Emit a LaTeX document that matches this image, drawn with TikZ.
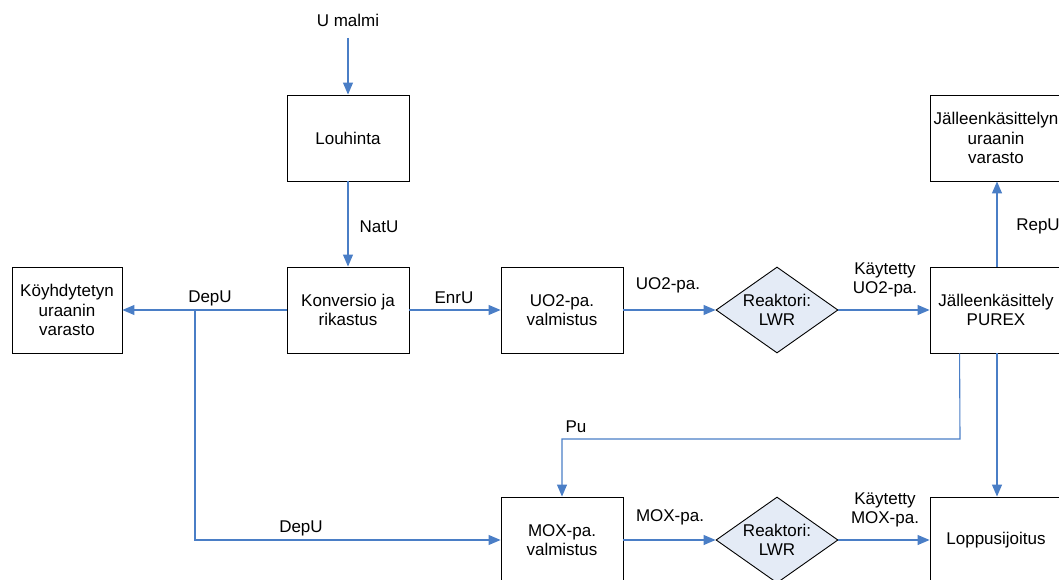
\documentclass[tikz,border=0pt]{standalone}
\usepackage{fontspec}
\setmainfont{Liberation Sans}
\usetikzlibrary{arrows.meta,shapes.geometric}
\definecolor{flowblue}{RGB}{74,126,198}
\definecolor{reactfill}{RGB}{228,235,246}
\begin{document}
\begin{tikzpicture}[x=1pt,y=-1pt,
  every node/.style={font=\fontsize{17}{19.5}\selectfont, inner sep=0pt},
  stepbox/.style={draw=black, line width=0.9pt, minimum width=122pt, minimum height=86pt, align=center},
  widebox/.style={stepbox, minimum width=132pt},
  reactor/.style={draw=black, line width=0.9pt, fill=reactfill, shape=diamond,
    minimum width=122pt, minimum height=86pt},
  flow/.style={draw=flowblue, line width=1.1pt, -{Triangle[length=12pt,width=10pt]}},
  flowline/.style={draw=flowblue, line width=1.1pt},
  tag/.style={align=center}]
\useasboundingbox (0,0) rectangle (1059,580);
\clip (0,0) rectangle (1059,580);

% process boxes
\node[stepbox] (mine) at (348,138) {Louhinta};
\node[stepbox] (conv) at (348,310) {Konversio ja\\rikastus};
\node[stepbox, minimum width=110pt] (depstore) at (67,310) {Köyhdytetyn\\uraanin\\varasto};
\node[stepbox] (uo2fab) at (562,310) {UO2-pa.\\valmistus};
\node[reactor, label={[align=center, font=\fontsize{17}{19.5}\selectfont]center:Reaktori:\\LWR}] (lwr1) at (777,310) {};
\node[widebox] (purex) at (996,310) {Jälleenkäsittely\\PUREX};
\node[widebox] (repstore) at (996,138) {Jälleenkäsittelyn\\uraanin\\varasto};
\node[stepbox] (moxfab) at (562,540) {MOX-pa.\\valmistus};
\node[reactor, label={[align=center, font=\fontsize{17}{19.5}\selectfont]center:Reaktori:\\LWR}] (lwr2) at (777,540) {};
\node[widebox] (disposal) at (996,540) {Loppusijoitus};

% ore input
\node (ore) at (348,20) {U malmi};
\coordinate (oreIn) at (348,38);

% flow labels
\node (natu) at (379,227) {NatU};
\node (depu1) at (210,298) {DepU};
\node (depu2) at (301,528) {DepU};
\node (enru) at (454,298) {EnrU};
\node (uo2fuel) at (668,285) {UO2-pa.};
\node[tag] (spentuo2) at (885,280) {Käytetty\\UO2-pa.};
\node (repu) at (1038,226) {RepU};
\node (pu) at (576,427) {Pu};
\node (moxfuel) at (670,517) {MOX-pa.};
\node[tag] (spentmox) at (885,510) {Käytetty\\MOX-pa.};

% connectors
\coordinate (depBranch) at (195,310);
\coordinate (depCorner) at (195,540);
\coordinate (puCorner) at (960,439);
\coordinate (puTurn) at (562,439);

\draw[flow] (oreIn) -- (mine.north);
\draw[flow] (mine.south) -- (conv.north);
\draw[flow] (conv.west) -- (depstore.east);
\draw[flow] (depBranch) -- (depCorner) -- (moxfab.west);
\draw[flow] (conv.east) -- (uo2fab.west);
\draw[flow] (uo2fab.east) -- (lwr1.west);
\draw[flow] (lwr1.east) -- (purex.west);
\draw[flow] ([xshift=1pt]purex.north) -- ([xshift=1pt]repstore.south);
\draw[flow] ([xshift=30pt]purex.south west) -- (puCorner) -- (puTurn) -- (moxfab.north);
\draw[flow] ([xshift=1pt]purex.south) -- ([xshift=1pt]disposal.north);
\draw[flow] (moxfab.east) -- (lwr2.west);
\draw[flow] (lwr2.east) -- (disposal.west);
\end{tikzpicture}
\end{document}
